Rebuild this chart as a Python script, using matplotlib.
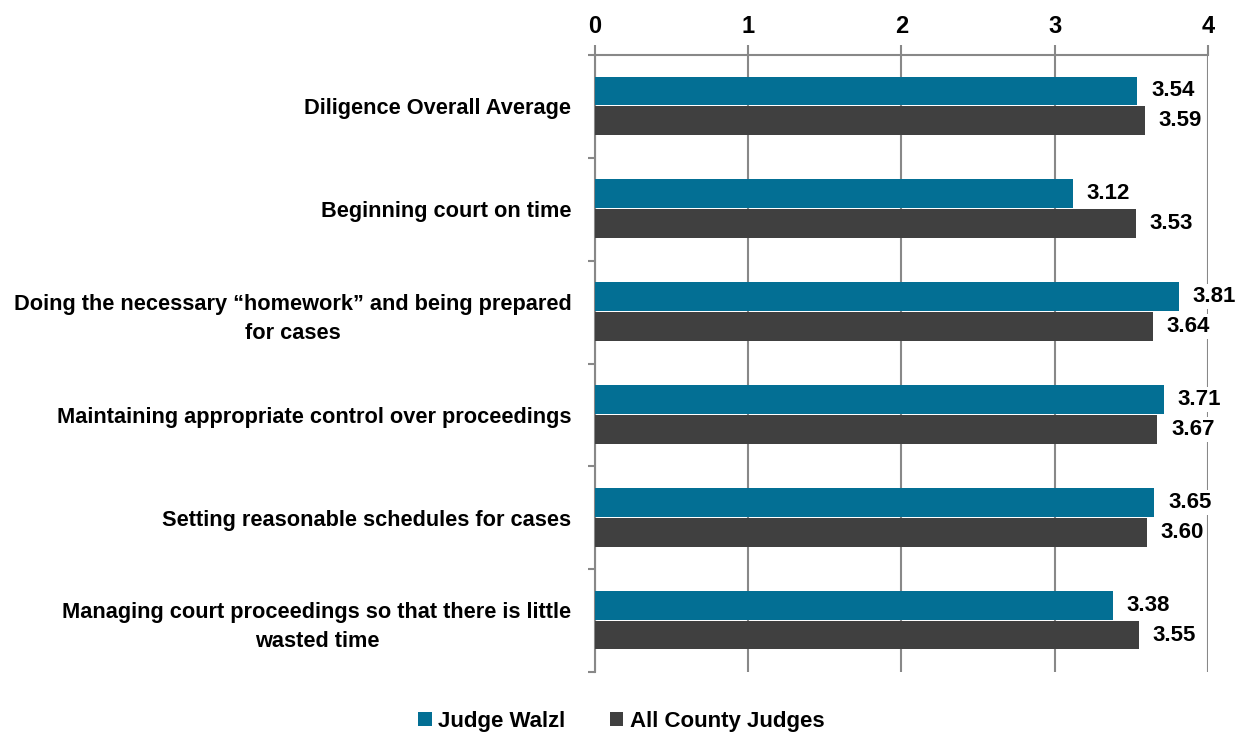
import numpy as np
import matplotlib.pyplot as plt

plt.rcParams['font.family'] = ['Liberation Sans', 'DejaVu Sans']
plt.rcParams['font.weight'] = 'bold'

categories = ['Diligence Overall Average',
              'Beginning court on time',
              'Doing the necessary \u201chomework\u201d and being prepared\nfor cases',
              'Maintaining appropriate control over proceedings',
              'Setting reasonable schedules for cases',
              'Managing court proceedings so that there is little\nwasted time']
walzl = [3.54, 3.12, 3.81, 3.71, 3.65, 3.38]
county = [3.59, 3.53, 3.64, 3.67, 3.60, 3.55]
series_names = ['Judge Walzl', 'All County Judges']
colors = ['#036F94', '#404040']
xticks = [0, 1, 2, 3, 4]

fig = plt.figure(figsize=(12.43, 7.38), dpi=100)
ax = fig.add_axes([0.4787, 0.0894, 0.4931, 0.8361])

y = np.arange(len(categories))
h = 0.28
ax.barh(y - 0.15, walzl, height=h, color=colors[0], label=series_names[0], zorder=3)
ax.barh(y + 0.14, county, height=h, color=colors[1], label=series_names[1], zorder=3)

for i in range(len(categories)):
    ax.text(walzl[i] + 0.09, y[i] - 0.15, f'{walzl[i]:.2f}', va='center', ha='left',
            fontsize=16, fontweight='bold', zorder=4,
            bbox=dict(facecolor='white', edgecolor='none', pad=1.5))
    ax.text(county[i] + 0.09, y[i] + 0.14, f'{county[i]:.2f}', va='center', ha='left',
            fontsize=16, fontweight='bold', zorder=4,
            bbox=dict(facecolor='white', edgecolor='none', pad=1.5))

ax.set_xlim(0, 4)
ax.set_ylim(len(categories) - 0.5, -0.5)
ax.xaxis.tick_top()
ax.set_xticks(xticks)
ax.set_xticklabels([str(t) for t in xticks], fontsize=17, fontweight='bold')
ax.tick_params(axis='x', length=7, color='#888888', width=1.5, pad=5)
ax.grid(axis='x', color='#888888', linewidth=1.5, zorder=0)

ax.set_yticks(np.arange(len(categories) + 1) - 0.5, minor=False)
ax.set_yticklabels([])
ax.set_yticks(y, minor=True)
ax.set_yticklabels(categories, minor=True, fontsize=15.7, fontweight='bold',
                   ha='right', multialignment='center', linespacing=1.5)
ax.tick_params(axis='y', which='major', length=5, color='#888888', width=1.5, direction='out')
ax.tick_params(axis='y', which='minor', length=0, pad=17)

for s in ['right', 'bottom']:
    ax.spines[s].set_visible(False)
for s in ['left', 'top']:
    ax.spines[s].set_color('#888888')
    ax.spines[s].set_linewidth(1.5)

fig.legend(loc='center', bbox_to_anchor=(0.5, 0.022), ncol=2, frameon=False,
           prop={'size': 16, 'weight': 'bold'}, handlelength=0.6, handleheight=0.6,
           handletextpad=0.3, columnspacing=2.0)

fig.savefig('out.png', dpi=100)
